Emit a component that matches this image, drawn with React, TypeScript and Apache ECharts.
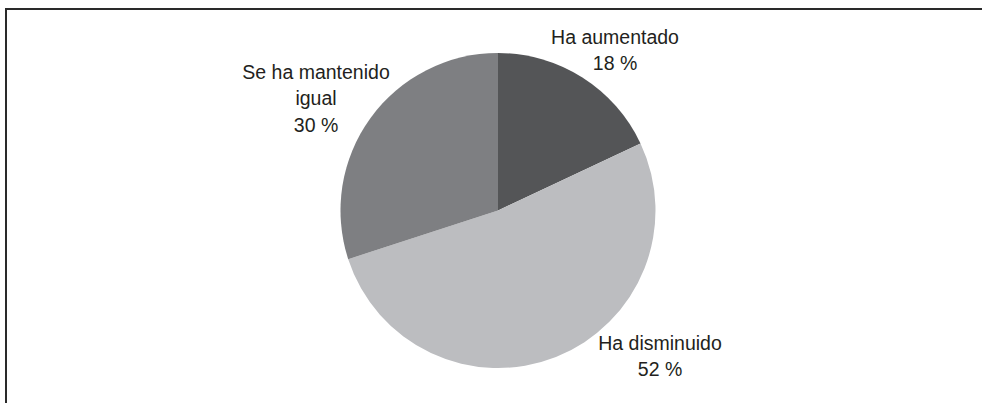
import React, { useEffect, useRef } from "react";
import * as echarts from "echarts";

const categories = ["Ha aumentado", "Ha disminuido", "Se ha mantenido\nigual"];
const values = [18, 52, 30];
const colors = ["#545557", "#bcbdc0", "#7e7f82"];
const labelCenters = [
  [615, 50],
  [660, 356],
  [316, 98],
];

export default function App() {
  const ref = useRef<HTMLDivElement>(null);
  useEffect(() => {
    const chart = echarts.init(ref.current!, null, { renderer: "svg" });
    chart.setOption({
      animation: false,
      backgroundColor: "#ffffff",
      graphic: [
        { type: "line", shape: { x1: 5, y1: 9, x2: 982, y2: 9 }, style: { stroke: "#2a2a2a", lineWidth: 2 } },
        { type: "line", shape: { x1: 6, y1: 8, x2: 6, y2: 403 }, style: { stroke: "#2a2a2a", lineWidth: 2 } },
      ],
      series: [
        {
          type: "pie",
          center: [498, 210.5],
          radius: [0, 157.5],
          startAngle: 90,
          clockwise: true,
          avoidLabelOverlap: false,
          itemStyle: { borderWidth: 0 },
          label: {
            show: true,
            position: "outside",
            formatter: (p: any) => `${p.name}\n${p.value} %`,
            fontFamily: "'Liberation Sans', Arial, sans-serif",
            fontSize: 19.5,
            lineHeight: 26.5,
            color: "#231f20",
            align: "center",
          },
          labelLine: { show: false },
          labelLayout: (params: any) => {
            const c = labelCenters[params.dataIndex];
            return { x: c[0], y: c[1], align: "center", verticalAlign: "middle" };
          },
          data: categories.map((n, i) => ({ name: n, value: values[i], itemStyle: { color: colors[i] } })),
        },
      ],
    });
    return () => chart.dispose();
  }, []);
  return <div ref={ref} style={{ position: "fixed", left: 0, top: 0, width: 982, height: 403 }} />;
}
